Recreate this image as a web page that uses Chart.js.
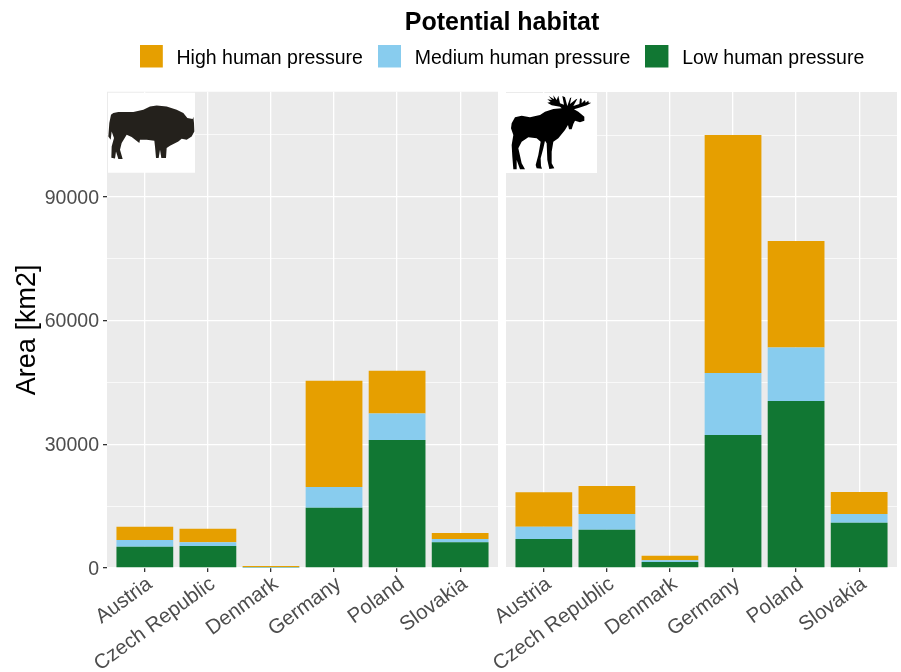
<!DOCTYPE html>
<html>
<head>
<meta charset="utf-8">
<title>Potential habitat</title>
<script src="https://cdn.jsdelivr.net/npm/chart.js@4"></script>
<style>
  html, body { margin: 0; padding: 0; background: #fff; overflow: hidden; }
  #wrap { position: relative; width: 901px; height: 672px; overflow: hidden; }
  #wrap div { position: absolute; top: 0; height: 672px; }
  #bisonBox { left: 0; width: 1004px; }
  #mooseBox { left: 400px; width: 501px; }
</style>
</head>
<body>
<div id="wrap">
  <div id="bisonBox"><canvas id="bisonChart"></canvas></div>
  <div id="mooseBox"><canvas id="mooseChart"></canvas></div>
</div>
<script>
// data
const countries = ["Austria", "Czech Republic", "Denmark", "Germany", "Poland", "Slovakia"];

const bisonLow = [5170, 5340, 150, 14630, 31050, 6230];
const bisonMedium = [1630, 890, 100, 5020, 6430, 810];
const bisonHigh = [3200, 3300, 250, 25720, 10320, 1450];

const mooseLow = [7040, 9290, 1455, 32270, 40500, 11000];
const mooseMedium = [2980, 3810, 415, 15030, 13000, 2100];
const mooseHigh = [8340, 6790, 1110, 57750, 25800, 5340];

const yLabelled = [0, 30000, 60000, 90000];
const yGridLines = [0, 15000, 30000, 45000, 60000, 75000, 90000, 105000];
const yMax = 115470;

const orange = "#E69F00";
const skyBlue = "#88CCEE";
const green = "#117733";

Chart.defaults.font.family = "'Liberation Sans', Arial, sans-serif";
Chart.defaults.animation = false;
Chart.defaults.responsive = false;

// silhouettes, in 3x crop coordinates
const bisonPath = "M340 100 L355 97 L400 97 L430 90 L450 80 L470 77 L500 80 L530 90 L550 100 L562 115 L578 118 L580 112 L582 130 L583 155 L575 170 L560 180 L545 177 L535 185 L510 198 L500 205 L498 235 L484 235 L480 210 L476 235 L468 235 L465 200 L463 183 L440 180 L420 180 L418 190 L395 172 L380 165 L365 190 L360 210 L368 238 L355 238 L348 215 L345 236 L334 234 L335 200 L342 175 L335 155 L332 180 L325 170 L328 130 L333 105 Z";
const moosePath = "M65 130 L75 112 L95 107 L120 112 L150 105 L165 95 L190 87 L215 85 L210 80 L185 76 L172 68 L182 66 L172 58 L186 60 L176 48 L192 58 L190 46 L200 60 L205 47 L210 70 L222 74 L217 48 L225 52 L232 78 L240 55 L244 52 L240 72 L258 58 L262 56 L250 78 L268 72 L270 55 L275 57 L275 70 L285 60 L287 68 L295 62 L296 68 L304 68 L290 76 L265 84 L252 88 L265 95 L283 110 L283 122 L270 127 L255 122 L250 132 L245 148 L237 148 L234 135 L225 150 L205 175 L190 185 L185 215 L185 250 L193 265 L178 267 L172 240 L170 190 L165 182 L160 205 L152 235 L153 258 L156 266 L140 265 L137 255 L145 225 L152 185 L140 175 L115 172 L95 185 L85 205 L95 250 L105 268 L90 268 L80 240 L80 268 L70 268 L67 230 L65 195 L70 165 L63 145 Z";

const panelBackground = {
  id: "panelBackground",
  beforeDraw(chart) {
    const { ctx, chartArea: a } = chart;
    ctx.save();
    ctx.fillStyle = "#EBEBEB";
    ctx.fillRect(a.left, a.top, a.right - a.left, a.bottom - a.top);
    ctx.restore();
  },
};

// white picture tile with the animal in the corner of a panel
function animalTile(id, path, colour, boxX, boxW, originX, originY) {
  return {
    id: id,
    afterDraw(chart) {
      const { ctx, chartArea: a } = chart;
      ctx.save();
      ctx.fillStyle = "#fff";
      ctx.fillRect(a.left + boxX, a.top + 1, boxW, 80);
      ctx.translate(a.left + originX, a.top + originY);
      ctx.scale(1 / 3, 1 / 3);
      ctx.fillStyle = colour;
      ctx.fill(new Path2D(path));
      ctx.restore();
    },
  };
}

function stackedSets(low, medium, high) {
  const toPoints = (vals) => vals.map((v, i) => ({ x: i, y: v }));
  return [
    { label: "Low human pressure", data: toPoints(low), backgroundColor: green },
    { label: "Medium human pressure", data: toPoints(medium), backgroundColor: skyBlue },
    { label: "High human pressure", data: toPoints(high), backgroundColor: orange },
  ];
}

function xAxis() {
  return {
    type: "linear",
    min: -0.6,
    max: 5.6,
    stacked: true,
    offset: false,
    afterFit(scale) { scale.height = 104; },
    border: { display: false },
    grid: {
      offset: false,
      color: "#fff",
      lineWidth: 1.3,
      tickColor: "#333",
      tickWidth: 1.3,
      tickLength: 4,
    },
    ticks: {
      stepSize: 1,
      includeBounds: false,
      autoSkip: false,
      maxRotation: 36,
      minRotation: 36,
      padding: 0,
      labelOffset: 5,
      color: "#4D4D4D",
      font: { size: 20.5 },
      callback: (v) => countries[v],
    },
  };
}

function yAxis(width, showLabels) {
  return {
    min: 0,
    max: yMax,
    stacked: true,
    afterFit(scale) { scale.width = width; },
    afterBuildTicks(scale) { scale.ticks = yGridLines.map((v) => ({ value: v })); },
    border: { display: false },
    grid: {
      color: "#fff",
      lineWidth: (c) => (yLabelled.includes(c.tick.value) ? 1.3 : 0.7),
      drawTicks: showLabels,
      tickLength: 4,
      tickWidth: 1.3,
      tickColor: (c) => (yLabelled.includes(c.tick.value) ? "#333" : "rgba(0,0,0,0)"),
    },
    title: {
      display: showLabels,
      text: "Area [km2]",
      color: "#000",
      font: { size: 27 },
      padding: { top: 11, bottom: 0 },
    },
    ticks: {
      display: showLabels,
      padding: 4,
      labelOffset: 1.5,
      color: "#4D4D4D",
      font: { size: 19.5 },
      callback: (v) => (yLabelled.includes(v) ? String(v) : ""),
    },
  };
}

// legend swatch: empty room right and below moves the text away from the box
function swatch(colour) {
  const c = document.createElement("canvas");
  c.width = 27;
  c.height = 29;
  const g = c.getContext("2d");
  g.fillStyle = colour;
  g.fillRect(0, 0, 23, 23);
  return c;
}

const bisonEl = document.getElementById("bisonChart");
bisonEl.width = 1004;
bisonEl.height = 672;
new Chart(bisonEl, {
  type: "bar",
  data: { datasets: stackedSets(bisonLow, bisonMedium, bisonHigh) },
  options: {
    devicePixelRatio: 1,
    layout: { padding: 0 },
    datasets: { bar: { categoryPercentage: 1, barPercentage: 0.9 } },
    plugins: {
      tooltip: { enabled: false },
      legend: {
        position: "top",
        reverse: true,
        onClick: null,
        title: {
          display: true,
          text: "Potential habitat",
          color: "#000",
          font: { size: 25, weight: "bold", lineHeight: 0.89 },
          padding: { top: 11, bottom: 1 },
        },
        labels: {
          usePointStyle: true,
          pointStyleWidth: 27,
          boxHeight: 23,
          padding: 15,
          color: "#000",
          font: { size: 19.5 },
          generateLabels(chart) {
            const items = Chart.defaults.plugins.legend.labels.generateLabels(chart);
            items.forEach((it) => {
              it.pointStyle = swatch(chart.data.datasets[it.datasetIndex].backgroundColor);
            });
            return items;
          },
        },
      },
    },
    scales: {
      x: xAxis(),
      y: yAxis(107, true),
      // empty axes: room for the second panel, and the gap under the legend
      spacer: {
        position: "right",
        display: true,
        afterFit(scale) { scale.width = 506; },
        border: { display: false },
        grid: { display: false },
        ticks: { display: false },
      },
      topGap: {
        type: "linear",
        axis: "x",
        position: "top",
        display: true,
        afterFit(scale) { scale.height = 13; },
        border: { display: false },
        grid: { display: false },
        ticks: { display: false },
      },
    },
  },
  plugins: [panelBackground, animalTile("bisonTile", bisonPath, "#24211C", 1, 87, -107, -92 + 80)],
});

const mooseEl = document.getElementById("mooseChart");
mooseEl.width = 501;
mooseEl.height = 672;
new Chart(mooseEl, {
  type: "bar",
  data: { datasets: stackedSets(mooseLow, mooseMedium, mooseHigh) },
  options: {
    devicePixelRatio: 1,
    layout: { padding: { top: 92, right: 4 } },
    datasets: { bar: { categoryPercentage: 1, barPercentage: 0.9 } },
    plugins: { legend: { display: false }, tooltip: { enabled: false } },
    scales: { x: xAxis(), y: yAxis(106, false) },
  },
  plugins: [panelBackground, animalTile("mooseTile", moosePath, "#000", 0, 91, -16, -92 + 80)],
});
</script>
</body>
</html>
